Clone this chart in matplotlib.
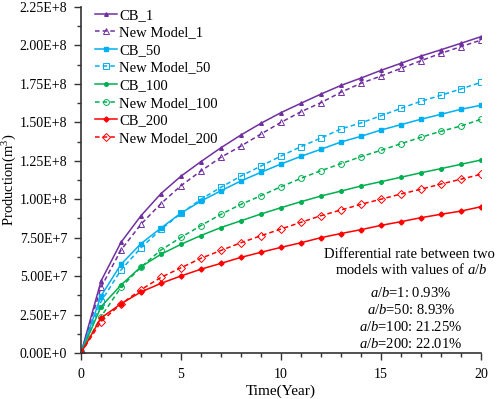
import matplotlib
matplotlib.use("Agg")
import matplotlib.pyplot as plt
from matplotlib.ticker import MultipleLocator, FuncFormatter

plt.rcParams['font.family'] = 'Liberation Serif'
plt.rcParams['mathtext.fontset'] = 'custom'
plt.rcParams['mathtext.rm'] = 'Liberation Serif'
plt.rcParams['mathtext.it'] = 'Liberation Serif:italic'

years = list(range(0, 21))

# production values in units of 1e8 m3
cb_1 = [0, 0.468, 0.720, 0.893, 1.037, 1.150, 1.245, 1.335, 1.418, 1.494, 1.563,
        1.624, 1.684, 1.740, 1.788, 1.838, 1.884, 1.931, 1.972, 2.014, 2.057]
nm_1 = [0, 0.427, 0.670, 0.838, 0.972, 1.088, 1.184, 1.273, 1.346, 1.424, 1.500,
        1.569, 1.628, 1.696, 1.754, 1.801, 1.851, 1.901, 1.949, 1.992, 2.035]
cb_50 = [0, 0.371, 0.577, 0.711, 0.813, 0.910, 0.988, 1.055, 1.119, 1.175, 1.229,
         1.279, 1.325, 1.372, 1.409, 1.450, 1.485, 1.520, 1.552, 1.585, 1.611]
nm_50 = [0, 0.334, 0.540, 0.685, 0.804, 0.908, 1.000, 1.078, 1.151, 1.216, 1.281,
         1.342, 1.398, 1.457, 1.496, 1.543, 1.591, 1.637, 1.676, 1.717, 1.760]
cb_100 = [0, 0.301, 0.442, 0.561, 0.642, 0.707, 0.764, 0.816, 0.860, 0.904, 0.945,
          0.984, 1.021, 1.053, 1.086, 1.114, 1.143, 1.172, 1.199, 1.227, 1.255]
nm_100 = [0, 0.236, 0.427, 0.559, 0.670, 0.752, 0.829, 0.902, 0.967, 1.023, 1.081,
          1.136, 1.186, 1.231, 1.277, 1.318, 1.361, 1.403, 1.442, 1.476, 1.520]
cb_200 = [0, 0.228, 0.320, 0.397, 0.453, 0.501, 0.545, 0.583, 0.622, 0.655, 0.687,
          0.717, 0.750, 0.777, 0.802, 0.830, 0.854, 0.880, 0.902, 0.923, 0.951]
nm_200 = [0, 0.204, 0.319, 0.412, 0.492, 0.554, 0.616, 0.667, 0.717, 0.763, 0.806,
          0.850, 0.893, 0.930, 0.967, 1.000, 1.034, 1.065, 1.099, 1.130, 1.162]

rate_labels = ['1', '50', '100', '200']
rate_values = ['0.93%', '8.93%', '21.25%', '22.01%']

purple = '#7030A0'
cyan = '#00B0F0'
green = '#00B050'
red = '#FF0000'

fig = plt.figure(figsize=(4.98, 3.99), dpi=100)
ax = fig.add_axes([0.1627, 0.1153, 0.8032, 0.8672])

def scaled(v):
    return [x * 1e8 for x in v]

series = [
    ('CB_1', cb_1, purple, '-', '^', True),
    ('New Model_1', nm_1, purple, '--', '^', False),
    ('CB_50', cb_50, cyan, '-', 's', True),
    ('New Model_50', nm_50, cyan, '--', 's', False),
    ('CB_100', cb_100, green, '-', 'o', True),
    ('New Model_100', nm_100, green, '--', 'o', False),
    ('CB_200', cb_200, red, '-', 'D', True),
    ('New Model_200', nm_200, red, '--', 'D', False),
]

for name, vals, col, ls, mk, filled in series:
    if filled:
        ax.plot(years, scaled(vals), color=col, ls=ls, lw=1.1, marker=mk,
                ms=2.6, mfc=col, mec=col, label=name)
    else:
        ax.plot(years, scaled(vals), color=col, ls=ls, lw=1.1, marker=mk,
                ms=4.2 if mk != 'D' else 3.6, mfc='none', mec=col, mew=0.7,
                dashes=(3, 2), label=name)

ax.set_xlim(0, 20)
ax.set_ylim(0, 2.25e8)
ax.xaxis.set_major_locator(MultipleLocator(5))
ax.xaxis.set_minor_locator(MultipleLocator(1))
ax.yaxis.set_major_locator(MultipleLocator(2.5e7))
ax.yaxis.set_minor_locator(MultipleLocator(1.25e7))

def sci(v, pos):
    if v == 0:
        return '0.00E+0'
    s = '%.2E' % v
    m, e = s.split('E')
    return '%sE+%d' % (m, int(e))

ax.yaxis.set_major_formatter(FuncFormatter(sci))

for side in ['top', 'right']:
    ax.spines[side].set_visible(False)
for side in ['left', 'bottom']:
    ax.spines[side].set_linewidth(1.2)
    ax.spines[side].set_color('#333333')

ax.tick_params(which='major', length=5, width=1, labelsize=10, color='#333333')
ax.tick_params(which='minor', length=3, width=1, color='#333333')
ax.tick_params(axis='x', pad=6)
ax.tick_params(axis='y', pad=5)

ax.set_xlabel('Time(Year)', fontsize=11)
ax.xaxis.set_label_coords(0.5, -0.09)
ax.set_ylabel('Production(m$^3$)', fontsize=10.5)
ax.yaxis.set_label_coords(-0.155, 0.5)

ax.legend(loc='upper left', bbox_to_anchor=(0.01, 1.025), frameon=False, fontsize=10.5,
          handlelength=1.5, handletextpad=0.15, labelspacing=0.3, borderpad=0.2)

ax.text(0.82, 0.286, 'Differential rate between two', transform=ax.transAxes,
        ha='center', va='center', fontsize=10.5)
ax.text(0.825, 0.240, 'models with values of $\\it{a/b}$', transform=ax.transAxes,
        ha='center', va='center', fontsize=10.5)
ys = [0.173, 0.124, 0.075, 0.026]
for lab, val, yy in zip(rate_labels, rate_values, ys):
    ax.text(0.825, yy, '$\\it{a/b}$=%s: %s' % (lab, val), transform=ax.transAxes,
            ha='center', va='center', fontsize=10.5)

fig.savefig('out.png', dpi=100)
